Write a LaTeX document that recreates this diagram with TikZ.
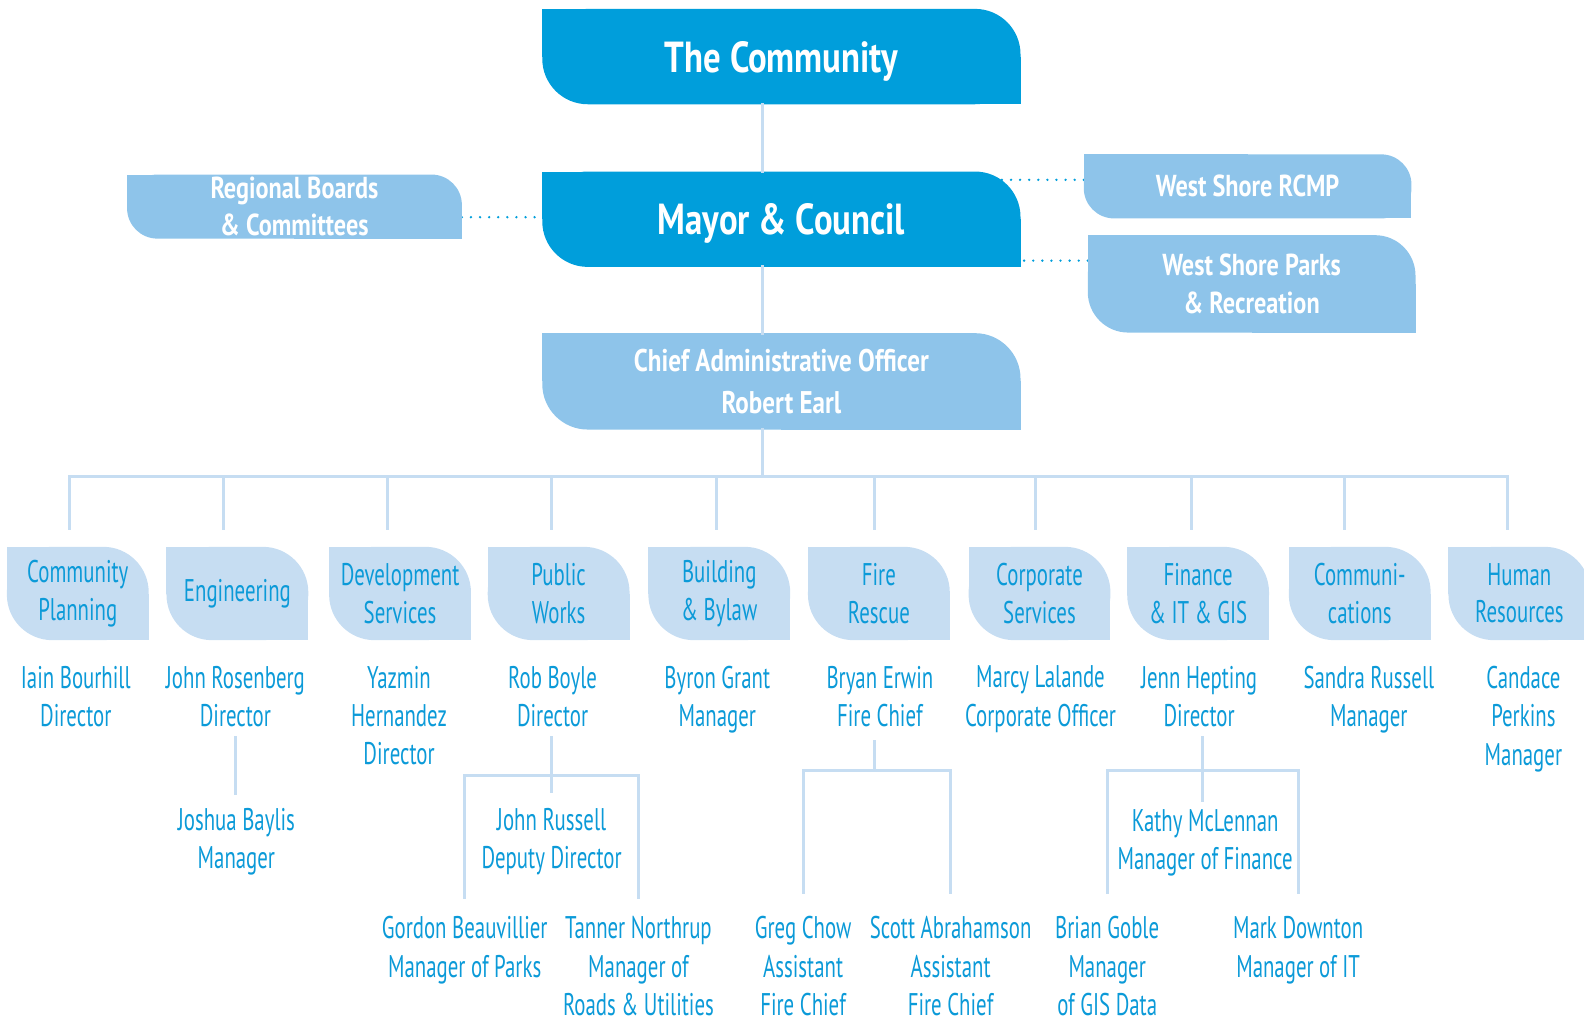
\documentclass[tikz,border=0pt]{standalone}
\usepackage{fontspec}
\setmainfont{PT Sans}[UprightFeatures={FakeStretch=0.665}, BoldFeatures={FakeStretch=0.8}]
\usetikzlibrary{backgrounds}
\definecolor{DeepBlue}{HTML}{009EDB}
\definecolor{MidBlue}{HTML}{8EC4EA}
\definecolor{PaleBlue}{HTML}{C6DDF2}
\definecolor{InkBlue}{HTML}{0B9AD8}

% leaf shaped box behind a node: rounded top right and bottom left
\newcommand{\leaffill}[3]{%
  \fill[#2, rounded corners=#3] (#1.north west) rectangle (#1.south east);
  \fill[#2] (#1.north west) rectangle (#1.center);
  \fill[#2] (#1.center) rectangle (#1.south east);}

\begin{document}
\begin{tikzpicture}[x=1pt, y=-1pt,
  topbox/.style={inner sep=0pt, minimum width=473pt, minimum height=94pt, text depth=0pt, text=white, font=\bfseries\fontsize{43}{50}\selectfont},
  sidebox/.style={inner sep=0pt, text=white, align=center, font=\bfseries\fontsize{30}{37}\selectfont},
  deptbox/.style={inner sep=0pt, minimum width=140pt, minimum height=92pt, text=InkBlue, align=center, font=\fontsize{31}{37}\selectfont},
  person/.style={inner sep=0pt, anchor=north, text=InkBlue, align=center, font=\fontsize{31}{38}\selectfont},
  link/.style={PaleBlue, line width=3pt, line cap=rect},
  dotlink/.style={DeepBlue, line width=2.6pt, line cap=round, dash pattern=on 0pt off 9pt}]
\useasboundingbox (0,0) rectangle (1568,1006);

% council and administration
\node[topbox] (comm) at (773.5,56) {The Community};
\node[topbox] (mayor) at (773.5,217) {Mayor \& Council};
\node[sidebox, minimum width=473pt, minimum height=95pt, font=\bfseries\fontsize{31}{42}\selectfont] (cao) at (773.5,377.5) {Chief Administrative Officer\\Robert Earl};
\node[sidebox, minimum width=331pt, minimum height=63pt] (regional) at (291.5,204.5) {Regional Boards\\\& Committees};
\node[sidebox, minimum width=324pt, minimum height=63pt] (rcmp) at (1235,184.5) {West Shore RCMP};
\node[sidebox, minimum width=324pt, minimum height=96pt] (parks) at (1239,281) {West Shore Parks\\\& Recreation};

\coordinate (bus) at (755,472);
\draw[link] (comm.south -| bus) -- (mayor.north -| bus);
\draw[link] (mayor.south -| bus) -- (cao.north -| bus);
\draw[link] (cao.south -| bus) -- (bus);

% departments
\foreach \i/\x/\txt in {1/77/{Community\\Planning}, 2/235/Engineering, 3/396/{Development\\Services},
    4/553/{Public\\Works}, 5/712/{Building\\\& Bylaw}, 6/870/{Fire\\Rescue}, 7/1029/{Corporate\\Services},
    8/1186/{Finance\\\& IT \& GIS}, 9/1346/{Communi-\\cations}, 10/1504/{Human\\Resources}}
  \node[deptbox] (d\i) at (\x,587.5) {\txt};

\foreach \i/\x/\txt in {1/75/{Iain Bourhill\\Director}, 2/233/{John Rosenberg\\Director}, 3/395/{Yazmin\\Hernandez\\Director},
    4/547/{Rob Boyle\\Director}, 5/710/{Byron Grant\\Manager}, 6/871/{Bryan Erwin\\Fire Chief},
    7/1030/{Marcy Lalande\\Corporate Officer}, 8/1187/{Jenn Hepting\\Director}, 9/1355/{Sandra Russell\\Manager},
    10/1508/{Candace\\Perkins\\Manager}}
  \node[person] (p\i) at (\x,659) {\txt};

\foreach \i/\x in {1/69,2/221,3/384,4/546,5/709,6/866,7/1025,8/1179,9/1331,10/1492}
  \coordinate (j\i) at (\x,472);
\draw[link] (j1) -- (j10);
\foreach \i in {1,...,10}
  \draw[link, shorten >=18pt] (j\i) -- (j\i |- d\i.north);

% engineering
\node[person] (q2) at (234,800) {Joshua Baylis\\Manager};
\draw[link, shorten <=10pt, shorten >=15pt] (p2.south) -- (p2.south |- q2.north);

% public works
\node[person] (q4) at (546,800) {John Russell\\Deputy Director};
\node[person] (r4a) at (460,907) {Gordon Beauvillier\\Manager of Parks};
\node[person] (r4b) at (632,907) {Tanner Northrup\\Manager of\\Roads \& Utilities};
\coordinate (h4) at (546,768);
\draw[link, shorten <=10pt, shorten >=17pt] (h4 |- p4.south) -- (h4 |- q4.north);
\draw[link, shorten <=19pt, shorten >=19pt] (r4a.north) |- (h4) -| (r4b.north);

% fire rescue
\node[person] (r6a) at (795,907) {Greg Chow\\Assistant\\Fire Chief};
\node[person] (r6b) at (941,907) {Scott Abrahamson\\Assistant\\Fire Chief};
\coordinate (h6) at (866,763);
\draw[link, shorten <=14pt] (h6 |- p6.south) -- (h6);
\draw[link, shorten <=24pt, shorten >=24pt] (r6a.north) |- (h6) -| (r6b.north);

% finance
\node[person] (q8) at (1193,801) {Kathy McLennan\\Manager of Finance};
\node[person] (r8a) at (1096,907) {Brian Goble\\Manager\\of GIS Data};
\node[person] (r8b) at (1285,907) {Mark Downton\\Manager of IT};
\coordinate (h8) at (1190,763);
\draw[link, shorten <=10pt, shorten >=9pt] (h8 |- p8.south) -- (h8 |- q8.north);
\draw[link, shorten <=24pt, shorten >=24pt] (r8a.north) |- (h8) -| (r8b.north);

\begin{scope}[on background layer]
\draw[dotlink] ([yshift=-10.5pt]regional.east) -- ([yshift=-10.5pt]regional.east -| mayor.west);
\draw[dotlink] ([yshift=6.5pt]rcmp.west) -- ([yshift=6.5pt]rcmp.west -| mayor.center);
\draw[dotlink] ([yshift=23pt]parks.west) -- ([yshift=23pt]parks.west -| mayor.center);
\leaffill{comm}{DeepBlue}{45pt}
\leaffill{mayor}{DeepBlue}{45pt}
\leaffill{cao}{MidBlue}{45pt}
\leaffill{regional}{MidBlue}{30pt}
\leaffill{rcmp}{MidBlue}{30pt}
\leaffill{parks}{MidBlue}{40pt}
\foreach \i in {1,...,10}
  {\leaffill{d\i}{PaleBlue}{45pt}}
\end{scope}
\end{tikzpicture}
\end{document}
